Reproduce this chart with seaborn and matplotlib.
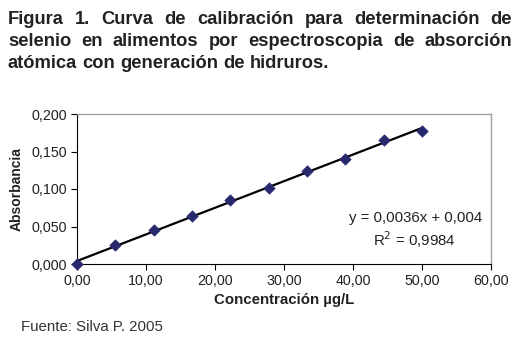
import numpy as np
import pandas as pd
import seaborn as sns
import matplotlib.pyplot as plt

conc = [0.0, 5.56, 11.11, 16.67, 22.22, 27.78, 33.33, 38.89, 44.44, 50.0]
absorb = [0.000, 0.025, 0.045, 0.064, 0.085, 0.101, 0.124, 0.140, 0.165, 0.178]
x_ticks = [0, 10, 20, 30, 40, 50, 60]
y_ticks = [0.0, 0.05, 0.10, 0.15, 0.20]
title_lines = ['Figura 1. Curva de calibración para determinación de',
               'selenio en alimentos por espectroscopia de absorción',
               'atómica con generación de hidruros.']

df = pd.DataFrame({'conc': conc, 'abs': absorb})
# least-squares trend line, as in the spreadsheet chart
slope, intercept = np.polyfit(conc, absorb, 1)
fit = pd.DataFrame({'conc': [conc[0], conc[-1]]})
fit['abs'] = slope * fit['conc'] + intercept

sns.set_style('white')
plt.rcParams['font.family'] = ['Liberation Sans', 'DejaVu Sans']

W, H = 525, 347
fig = plt.figure(figsize=(W / 100, H / 100), dpi=100)
ax = fig.add_axes([77 / W, 1 - 264 / H, 414 / W, 150 / H])

sns.lineplot(data=fit, x='conc', y='abs', color='black', lw=1.6, ax=ax)
sns.scatterplot(data=df, x='conc', y='abs', marker='D', s=34, color='#28286e',
                edgecolor='#28286e', zorder=3, clip_on=False, ax=ax)

ax.set_xlim(0, 60)
ax.set_ylim(0, 0.2)
ax.set_xticks(x_ticks)
ax.set_yticks(y_ticks)
tick_fs = 10.3
ax.set_xticklabels([f'{v:.2f}'.replace('.', ',') for v in x_ticks], fontsize=tick_fs)
ax.set_yticklabels([f'{v:.3f}'.replace('.', ',') for v in y_ticks], fontsize=tick_fs)
ax.tick_params(axis='both', direction='out', length=4, width=0.8, color='black',
               labelcolor='#222222', bottom=True, left=True, pad=3)
for side in ['top', 'right']:
    ax.spines[side].set_color('#a0a0a0')
    ax.spines[side].set_linewidth(1.0)
for side in ['left', 'bottom']:
    ax.spines[side].set_color('black')
    ax.spines[side].set_linewidth(0.8)

ax.set_xlabel('Concentración µg/L', fontsize=10.8, fontweight='bold', labelpad=4,
              color='#222222')
ax.set_ylabel('Absorbancia', fontsize=10, fontweight='bold', labelpad=6,
              color='#222222')

ax.text(482 / W, 1 - 218 / H, 'y = 0,0036x + 0,004', transform=fig.transFigure,
        ha='right', va='center', fontsize=10.8, color='#222222')
ax.text(414 / W, 1 - 240 / H, 'R$^2$ = 0,9984', transform=fig.transFigure,
        ha='center', va='center', fontsize=10.8, color='#222222')

# justified title: first lines spread over the full width, last line left-aligned
renderer = fig.canvas.get_renderer()
x_left, x_right = 8, 512
title_fs = 13.2
for i, line in enumerate(title_lines):
    y = 1 - (24 + 22 * i) / H
    words = line.split(' ')
    texts = [fig.text(0, y, w, fontsize=title_fs, fontweight='bold', color='#222222',
                      ha='left', va='baseline') for w in words]
    widths = [t.get_window_extent(renderer).width for t in texts]
    if i < len(title_lines) - 1:
        gap = (x_right - x_left - sum(widths)) / (len(words) - 1)
    else:
        space = fig.text(0, 0, 'a a', fontsize=title_fs, fontweight='bold')
        gap = space.get_window_extent(renderer).width
        space.remove()
        aa = fig.text(0, 0, 'aa', fontsize=title_fs, fontweight='bold')
        gap -= aa.get_window_extent(renderer).width
        aa.remove()
    x = x_left
    for t, w in zip(texts, widths):
        t.set_x(x / W)
        x += w + gap

fig.text(21 / W, 1 - 327 / H, 'Fuente: Silva P. 2005', ha='left', va='center',
         fontsize=10.8, color='#333333')

fig.savefig('out.png', dpi=100)
